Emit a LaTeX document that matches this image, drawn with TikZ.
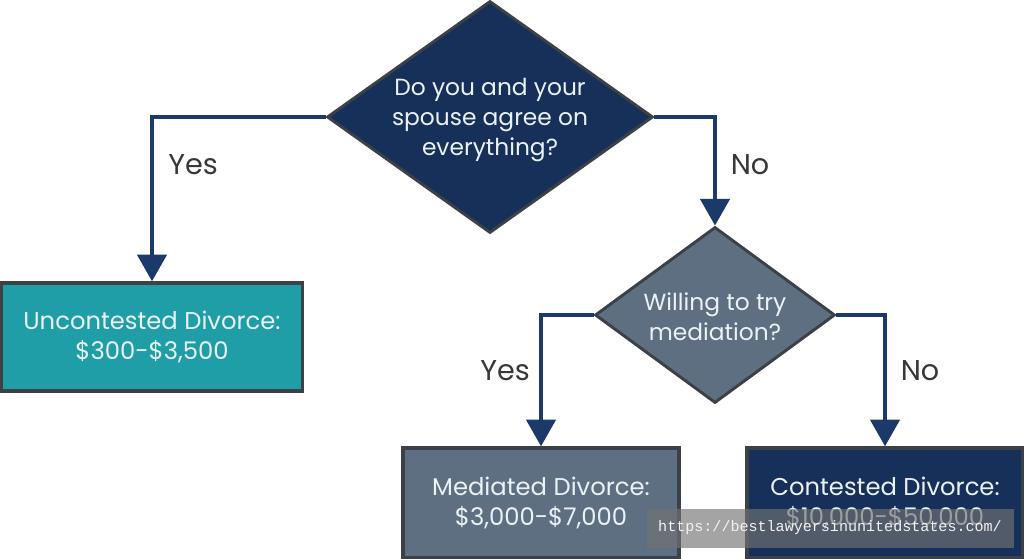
\documentclass[tikz,border=0pt]{standalone}
\usepackage{fontspec}
\setmainfont{Poppins}
\newfontfamily\wmfont{Liberation Mono}
\usetikzlibrary{shapes.geometric,arrows.meta}
\definecolor{navy}{HTML}{16305A}
\definecolor{arrowc}{HTML}{1B3A6A}
\definecolor{bord}{HTML}{3C4047}
\definecolor{tealc}{HTML}{1F9EA8}
\definecolor{slate}{HTML}{5E6F82}
\definecolor{txtw}{HTML}{EAF2F5}
\definecolor{lab}{HTML}{383838}
\tikzset{
  dec/.style={diamond, draw=bord, line width=2.2pt, inner sep=0pt},
  box/.style={rectangle, draw=bord, line width=2.6pt, inner sep=0pt, align=center,
     text=txtw, font=\fontsize{18.2}{22}\selectfont},
  dtext/.style={align=center, text=txtw, font=\fontsize{17.5}{22.5}\selectfont},
  conn/.style={draw=arrowc, line width=2.6pt, -{Triangle[width=22pt,length=20pt]}},
  lbl/.style={text=lab, font=\fontsize{21.5}{24}\selectfont},
}
\begin{document}
\begin{tikzpicture}[x=0.75pt,y=-0.75pt]
\useasboundingbox (0,0) rectangle (1024,559);
% decisions
\node[dec, fill=navy, minimum width=326*0.75pt, minimum height=232*0.75pt] (d1) at (490,117) {};
\node[dtext] (t1) at (490,120) {Do you and your\\spouse agree on\\everything?};
\node[dec, fill=slate, minimum width=240*0.75pt, minimum height=176*0.75pt] (d2) at (715,315) {};
\node[dtext] (t2) at (715,317) {Willing to try\\mediation?};
% outcomes
\node[box, fill=tealc, minimum width=301*0.75pt, minimum height=108*0.75pt] (b1) at (152,337) {Uncontested Divorce:\\\$300-\$3,500};
\node[box, fill=slate, minimum width=276*0.75pt, minimum height=110*0.75pt] (b2) at (541,503) {Mediated Divorce:\\\$3,000-\$7,000};
\node[box, fill=navy, minimum width=276*0.75pt, minimum height=110*0.75pt] (b3) at (885,503) {Contested Divorce:\\\$10,000-\$50,000};
% connectors
\draw[conn] (d1.west) -| (b1.north);
\draw[conn] (d1.east) -| (d2.north);
\draw[conn] (d2.west) -| (b2.north);
\draw[conn] (d2.east) -| (b3.north);
% labels
\node[lbl] (y1) at (193,165) {Yes};
\node[lbl] (n1) at (750,165) {No};
\node[lbl] (y2) at (505,371) {Yes};
\node[lbl] (n2) at (920,371) {No};
% watermark
\node[rectangle, fill=black!55, fill opacity=0.65, text opacity=1, text=white!90!gray,
  minimum width=367*0.75pt, minimum height=39*0.75pt, inner sep=0pt,
  font=\wmfont\fontsize{11.3}{12}\selectfont] (wm) at (830,528) {https://bestlawyersinunitedstates.com/};
\end{tikzpicture}
\end{document}
